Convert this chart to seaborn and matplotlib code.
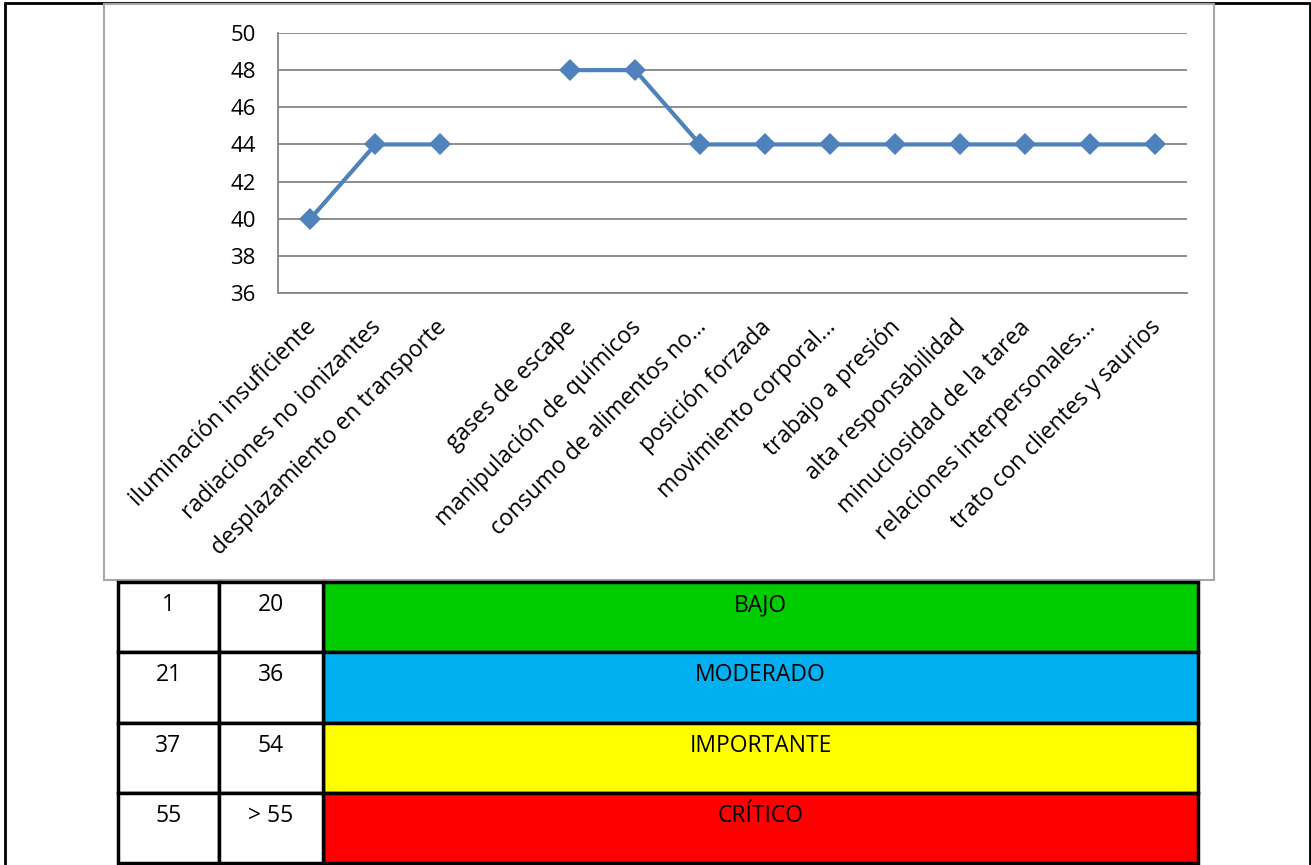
import numpy as np
import pandas as pd
import seaborn as sns
import matplotlib.pyplot as plt
import matplotlib.transforms as mtransforms
from matplotlib.patches import Rectangle

# Chart data (one blank category with no value)
categories = [
    "iluminación insuficiente", "radiaciones no ionizantes", "desplazamiento en transporte",
    "", "gases de escape", "manipulación de químicos", "consumo de alimentos no…",
    "posición forzada", "movimiento corporal…", "trabajo a presión", "alta responsabilidad",
    "minuciosidad de la tarea", "relaciones interpersonales…", "trato con clientes y saurios",
]
values = [40, 44, 44, np.nan, 48, 48, 44, 44, 44, 44, 44, 44, 44, 44]
y_ticks = [36, 38, 40, 42, 44, 46, 48, 50]

# Risk level table
range_low = ["1", "21", "37", "55"]
range_high = ["20", "36", "54", "> 55"]
levels = ["BAJO", "MODERADO", "IMPORTANTE", "CRÍTICO"]
level_colors = ["#00cc00", "#00b0f0", "#ffff00", "#ff0000"]

sns.set_style("white")
plt.rcParams["font.family"] = ["Open Sans", "DejaVu Sans"]
plt.rcParams["text.color"] = "black"
plt.rcParams["xtick.labelcolor"] = "black"
plt.rcParams["ytick.labelcolor"] = "black"

W, H = 1311, 865
fig = plt.figure(figsize=(W / 100, H / 100), dpi=100)


def fx(x):
    return x / W


def fy(y):
    return 1 - y / H


# outer page border and chart frame
fig.patches.append(Rectangle((fx(5), fy(868)), fx(1310) - fx(5), fy(3) - fy(868),
                             transform=fig.transFigure, fill=False, edgecolor="black", lw=2))
fig.patches.append(Rectangle((fx(104), fy(580)), fx(1214) - fx(104), fy(4) - fy(580),
                             transform=fig.transFigure, fill=False, edgecolor="#a6a6a6", lw=1.5))

ax = fig.add_axes([fx(278), fy(293), fx(1187) - fx(278), fy(33) - fy(293)])

df = pd.DataFrame({"pos": np.arange(len(categories)), "cat": categories, "val": values})
df["seg"] = df["val"].isna().cumsum()
sns.lineplot(data=df.dropna(), x="pos", y="val", units="seg", estimator=None,
             color="#4f81bd", lw=3, marker="D", markersize=11, markeredgewidth=0, ax=ax)

ax.set_xlim(-0.5, len(categories) - 0.5)
ax.set_ylim(36, 50)
ax.set_yticks(y_ticks)
ax.grid(axis="y", color="#868686", lw=1.3)
ax.set_axisbelow(True)
ax.set_xlabel("")
ax.set_ylabel("")
for s in ["top", "right"]:
    ax.spines[s].set_visible(False)
for s in ["left", "bottom"]:
    ax.spines[s].set_color("#868686")
    ax.spines[s].set_linewidth(1.3)

ax.set_xticks(df["pos"])
ax.set_xticklabels(categories, rotation=45, ha="right", rotation_mode="anchor", fontsize=16.5)
ax.set_xticks(np.arange(-0.5, len(categories)), minor=True)
ax.tick_params(axis="x", which="major", length=0, pad=14)
ax.tick_params(axis="x", which="minor", length=6, color="#868686", width=1.3, direction="out")
ax.tick_params(axis="y", length=6, color="#868686", width=1.3, pad=10, labelsize=16)

# nudge labels slightly left/down like the original
shift = mtransforms.ScaledTranslation(-6 / 100, -3 / 100, fig.dpi_scale_trans)
for lbl in ax.get_xticklabels():
    lbl.set_transform(lbl.get_transform() + shift)

# table below the chart
rows = [582, 652, 723, 793, 863]
cols = [118, 219, 323, 1198]
for i in range(len(levels)):
    top, bot = rows[i], rows[i + 1]
    fig.patches.append(Rectangle((fx(cols[2]), fy(bot)), fx(cols[3]) - fx(cols[2]), fy(top) - fy(bot),
                                 transform=fig.transFigure, facecolor=level_colors[i],
                                 edgecolor="black", lw=2.5))
    for j in range(2):
        fig.patches.append(Rectangle((fx(cols[j]), fy(bot)), fx(cols[j + 1]) - fx(cols[j]),
                                     fy(top) - fy(bot), transform=fig.transFigure,
                                     facecolor="white", edgecolor="black", lw=2.5))
    ty = fy(top + 23)
    fig.text(fx((cols[0] + cols[1]) / 2), ty, range_low[i], ha="center", va="center", fontsize=16.5)
    fig.text(fx((cols[1] + cols[2]) / 2), ty, range_high[i], ha="center", va="center", fontsize=16.5)
    fig.text(fx((cols[2] + cols[3]) / 2), ty, levels[i], ha="center", va="center", fontsize=16.5)

fig.savefig("out.png", dpi=100)
